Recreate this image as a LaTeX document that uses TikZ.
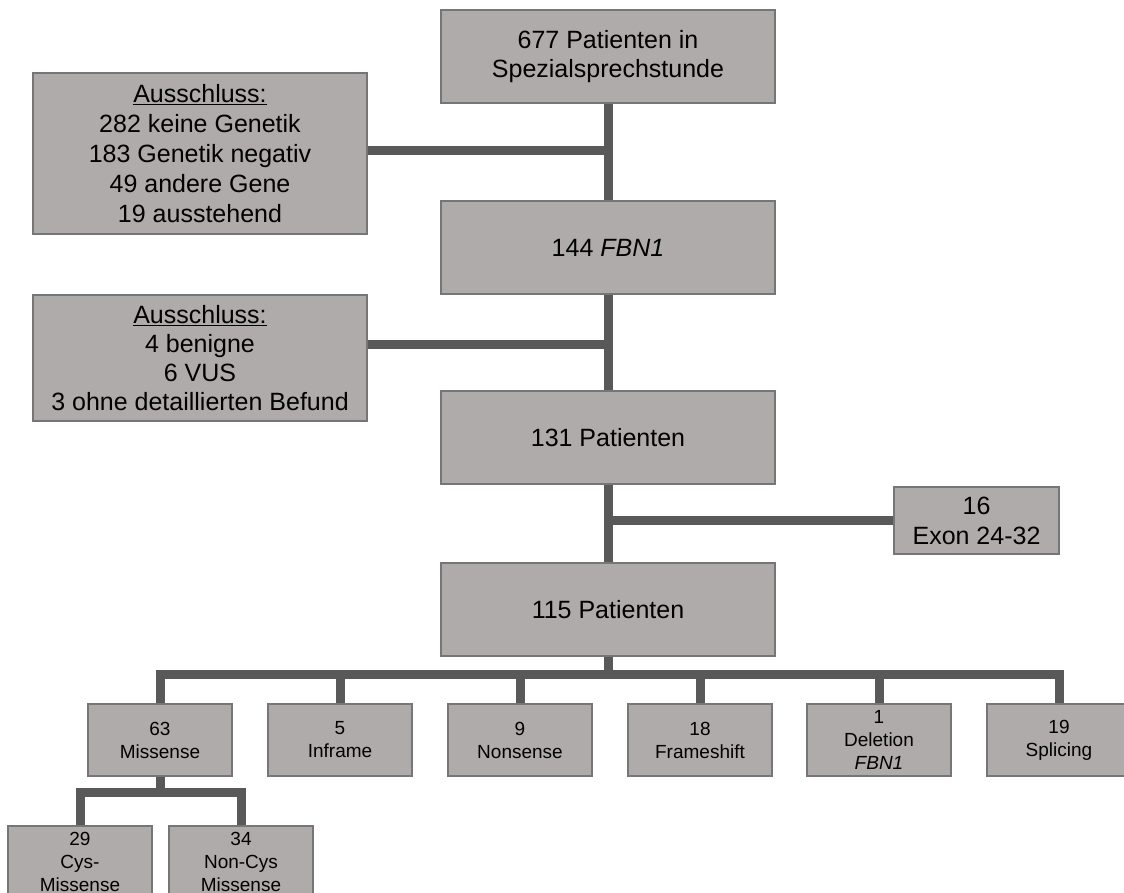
\documentclass[tikz,border=0pt]{standalone}
\usepackage{fontspec}
\setmainfont{Liberation Sans}
\definecolor{boxgray}{RGB}{175,171,170}
\definecolor{rimgray}{RGB}{118,118,118}
\definecolor{linkgray}{RGB}{89,89,89}

\begin{document}
\begin{tikzpicture}[x=1pt, y=-1pt,
		stage/.style={draw=rimgray, fill=boxgray, line width=1.2pt, align=center, inner sep=0pt,
				minimum width=334pt, minimum height=93pt, font=\fontsize{25}{29}\selectfont},
		leaf/.style={stage, minimum width=144pt, minimum height=72pt, font=\fontsize{19}{23}\selectfont},
		link/.style={draw=linkgray, line width=9pt}]
		\clip (0,0) rectangle (1124,892);
		\fill[white] (0,0) rectangle (1124,892);

		\begin{scope}
			\node[stage] (start) at (608,56.5) {677 Patienten in\\Spezialsprechstunde};
			\node[stage] (fbn) at (608,247.5) {144 \textit{FBN1}};
			\node[stage] (pat131) at (608,437.5) {131 Patienten};
			\node[stage] (pat115) at (608,609.5) {115 Patienten};

			\node[stage, minimum height=161pt, font=\fontsize{25}{30}\selectfont] (excl1) at (200,153.5) {\underline{Ausschluss:}\\282 keine Genetik\\183 Genetik negativ\\49 andere Gene\\19 ausstehend};
			\node[stage, minimum height=126pt] (excl2) at (200,358) {\underline{Ausschluss:}\\4 benigne\\6 VUS\\3 ohne detaillierten Befund};
			\node[stage, minimum width=165pt, minimum height=67pt, font=\fontsize{25}{30}\selectfont] (exon) at (976.5,520.5) {16\\Exon 24-32};

			\draw[link] (start) -- (fbn);
			\draw[link] (fbn) -- (pat131);
			\draw[link] (pat131) -- (pat115);
			\draw[link] ([yshift=3.5pt]excl1.east) -- ([yshift=3.5pt]excl1.east -| start.south);
			\draw[link] ([yshift=14pt]excl2.east) -- ([yshift=14pt]excl2.east -| fbn.south);
			\draw[link] (exon.west) -- (exon.west -| pat131.south);
		\end{scope}

		\begin{scope}
			\node[leaf] (missense) at (160,740) {63\\Missense};
			\node[leaf] (inframe) at (340,740) {5\\Inframe};
			\node[leaf] (nonsense) at (520,740) {9\\Nonsense};
			\node[leaf] (frameshift) at (700,740) {18\\Frameshift};
			\node[leaf] (deletion) at (879,740) {1\\Deletion\\\textit{FBN1}};
			\node[leaf] (splicing) at (1059,740) {19\\Splicing};
			\node[leaf] (cys) at (80,862) {29\\Cys-\\Missense};
			\node[leaf] (noncys) at (241,862) {34\\Non-Cys\\Missense};

			\draw[link] (pat115.south) -- ++(0,18) -| (missense.north);
			\draw[link] (pat115.south) -- ++(0,18) -| (inframe.north);
			\draw[link] (pat115.south) -- ++(0,18) -| (nonsense.north);
			\draw[link] (pat115.south) -- ++(0,18) -| (frameshift.north);
			\draw[link] (pat115.south) -- ++(0,18) -| (deletion.north);
			\draw[link] (pat115.south) -- ++(0,18) -| (splicing.north);
			\draw[link] (missense.south) -- ++(0,16) -| (cys.north);
			\draw[link] (missense.south) -- ++(0,16) -| (noncys.north);
		\end{scope}
	\end{tikzpicture}
\end{document}
